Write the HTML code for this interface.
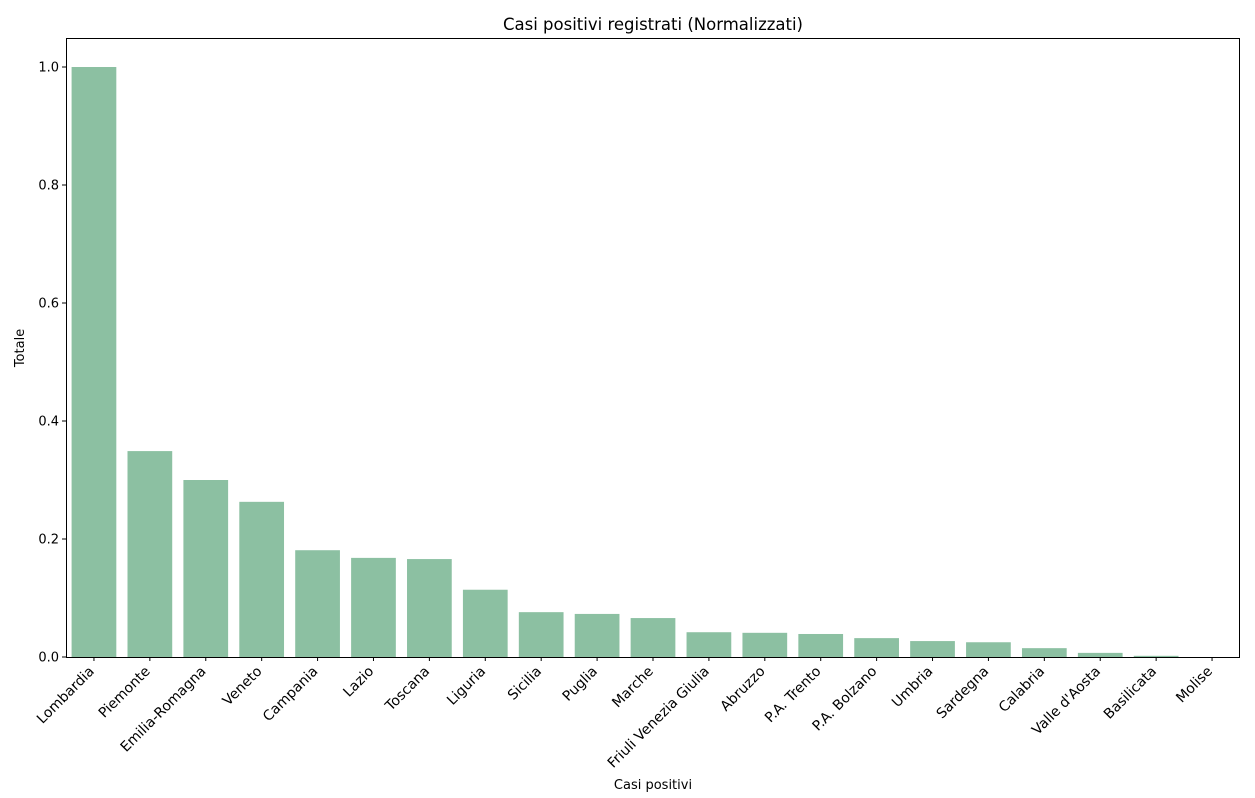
<!DOCTYPE html>
<html><head><meta charset="utf-8"><style>
body{margin:0;background:#fff}
svg{display:block;font-family:"DejaVu Sans","Liberation Sans",sans-serif}
</style></head><body>
<svg id="chart" width="1255" height="798">
<rect width="1255" height="798" fill="#fff"/>
<text x="653" y="30" text-anchor="middle" font-size="16.5">Casi positivi registrati (Normalizzati)</text>
<text x="653" y="789" text-anchor="middle" font-size="13">Casi positivi</text>
<text transform="translate(24,348) rotate(-90)" text-anchor="middle" font-size="13">Totale</text>
<g id="bars"></g><g id="xt"></g><g id="yt"></g>
<rect x="66.5" y="38.5" width="1173" height="619" fill="none" stroke="#000" stroke-width="1"/>
</svg>
<script>
const categories=["Lombardia","Piemonte","Emilia-Romagna","Veneto","Campania","Lazio","Toscana","Liguria","Sicilia","Puglia","Marche","Friuli Venezia Giulia","Abruzzo","P.A. Trento","P.A. Bolzano","Umbria","Sardegna","Calabria","Valle d'Aosta","Basilicata","Molise"];
const values=[1.0,0.349,0.300,0.263,0.181,0.168,0.166,0.114,0.076,0.073,0.066,0.042,0.041,0.039,0.032,0.027,0.025,0.015,0.007,0.002,0];
const yTicks=[0,0.2,0.4,0.6,0.8,1.0];
const yTickLabels=["0.0","0.2","0.4","0.6","0.8","1.0"];
const L=66,R=1240,B=657,T=38;
const step=(R-L)/categories.length;
const y=v=>B-v*590;
const x=i=>L+step*(i+0.5);
const NS="http://www.w3.org/2000/svg";
const bars=document.getElementById('bars'),xt=document.getElementById('xt'),yt=document.getElementById('yt');
function mk(t,a){const e=document.createElementNS(NS,t);for(const k in a)e.setAttribute(k,a[k]);return e;}
categories.forEach((c,i)=>{
 const bw=step*0.8;
 const r=mk('rect',{x:x(i)-bw/2,y:y(values[i]),width:bw,height:B-y(values[i]),fill:'#8cc0a2'});
 
 
 bars.appendChild(r);
 const tk=mk('line',{x1:x(i),x2:x(i),y1:B,y2:B+4,stroke:'#000'});
 
 
 xt.appendChild(tk);
 const tx=mk('text',{x:0,y:0,'font-size':14,'text-anchor':'end',transform:`translate(${x(i)+1},${B+15}) rotate(-45)`});
 tx.textContent=c;
 
 
 xt.appendChild(tx);
});
yTicks.forEach((v,i)=>{
 const tk=mk('line',{x1:L-4,x2:L,y1:y(v),y2:y(v),stroke:'#000'});
 
 
 yt.appendChild(tk);
 const tx=mk('text',{x:L-7,y:y(v)+4.5,'font-size':13,'text-anchor':'end'});
 tx.textContent=yTickLabels[i];
 
 
 yt.appendChild(tx);
});
</script>
</body></html>
